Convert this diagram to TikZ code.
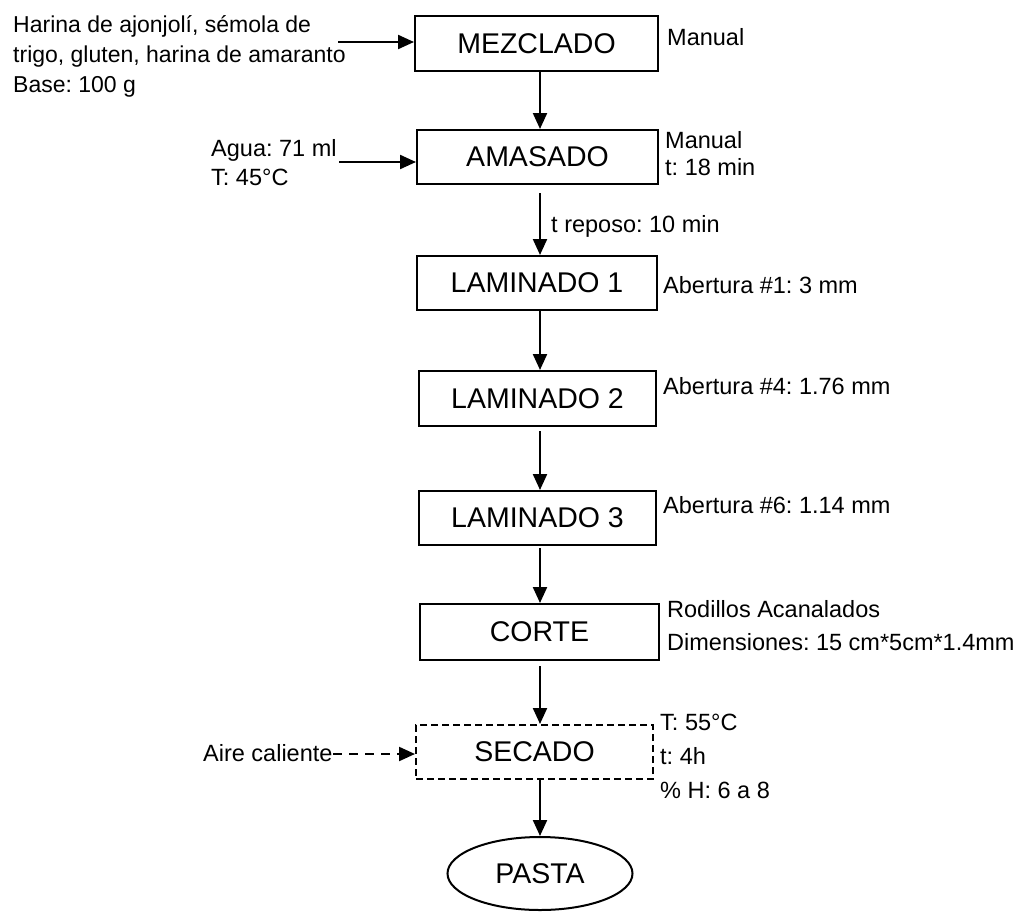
\documentclass[tikz,border=0pt]{standalone}
\usepackage{fontspec}
\setmainfont{Liberation Sans}
\usetikzlibrary{arrows.meta,shapes.geometric}
\frenchspacing
\begin{document}
\begin{tikzpicture}[x=1pt,y=-1pt,
  proc/.style={draw,line width=2pt,minimum width=240pt,minimum height=54pt,inner sep=0pt,font=\fontsize{28.5}{32}\selectfont},
  side/.style={inner sep=0pt,anchor=base west,font=\fontsize{23.5}{28}\selectfont},
  arr/.style={line width=2.2pt,-{Triangle[width=14pt,length=16pt]}},
  darr/.style={arr,dash pattern=on 9pt off 7pt},
]
\useasboundingbox (0,0) rectangle (1025,911);

% process boxes
\node[proc,minimum width=243pt,minimum height=55pt] (mez) at (536.5,43.5) {MEZCLADO};
\node[proc,minimum width=241pt] (ama) at (537.5,157) {AMASADO};
\node[proc] (lam1) at (537,283) {LAMINADO 1};
\node[proc,minimum width=237pt,minimum height=55pt] (lam2) at (537.5,398.5) {LAMINADO 2};
\node[proc,minimum width=237pt] (lam3) at (537.5,518) {LAMINADO 3};
\node[proc,minimum width=239pt,minimum height=56pt] (corte) at (539.5,632) {CORTE};
\node[proc,minimum width=237pt,dash pattern=on 7pt off 4pt] (sec) at (534.5,752) {SECADO};
\node[proc,ellipse,minimum width=185pt,minimum height=73pt] (pasta) at (540,873.5) {PASTA};

% vertical connectors
\coordinate (ax) at (540,0);
\draw[arr] (mez.south -| ax) -- (ama.north -| ax);
\draw[arr] ([yshift=-8pt]ama.south -| ax) -- (lam1.north -| ax);
\draw[arr] (lam1.south -| ax) -- (lam2.north -| ax);
\draw[arr] ([yshift=-4pt]lam2.south -| ax) -- (lam3.north -| ax);
\draw[arr] ([yshift=-2pt]lam3.south -| ax) -- (corte.north -| ax);
\draw[arr] ([yshift=-5pt]corte.south -| ax) -- (sec.north -| ax);
\draw[arr] (sec.south -| ax) -- (pasta.north -| ax);

% inputs
\node[side] (inp1) at (13,32) {\fontsize{23}{30}\selectfont\begin{tabular}[t]{@{}l@{}}Harina de ajonjolí, sémola de\\trigo, gluten, harina de amaranto\\Base: 100 g\end{tabular}};
\coordinate (in1) at (338,42);
\draw[arr] (in1) -- (in1 -| mez.west);

\node[side] (inp2) at (211,156) {\fontsize{23.5}{29}\selectfont\begin{tabular}[t]{@{}l@{}}Agua: 71 ml\\T: 45°C\end{tabular}};
\coordinate (in2) at (339,162);
\draw[arr] (in2) -- (in2 -| ama.west);

\node[side] (inp3) at (203,761) {Aire caliente};
\coordinate (in3) at (333,754);
\draw[darr] (in3) -- (in3 -| sec.west);

% side annotations
\node[side] (s1) at (667,45) {Manual};
\node[side] (s2) at (665,148) {\fontsize{23.5}{27.3}\selectfont\begin{tabular}[t]{@{}l@{}}Manual\\t: 18 min\end{tabular}};
\node[side] (s3) at (551,232) {t reposo: 10 min};
\node[side] (s4) at (663,293) {Abertura \#1: 3 mm};
\node[side] (s5) at (663,394) {Abertura \#4: 1.76 mm};
\node[side] (s6) at (663,513) {Abertura \#6: 1.14 mm};
\node[side] (s7) at (667,617) {\fontsize{23.5}{33.5}\selectfont\begin{tabular}[t]{@{}l@{}}Rodillos Acanalados\\Dimensiones: 15 cm*5cm*1.4mm\end{tabular}};
\node[side] (s8) at (660,730) {\fontsize{23.5}{34}\selectfont\begin{tabular}[t]{@{}l@{}}T: 55°C\\t: 4h\\\% H: 6 a 8\end{tabular}};
\end{tikzpicture}
\end{document}
